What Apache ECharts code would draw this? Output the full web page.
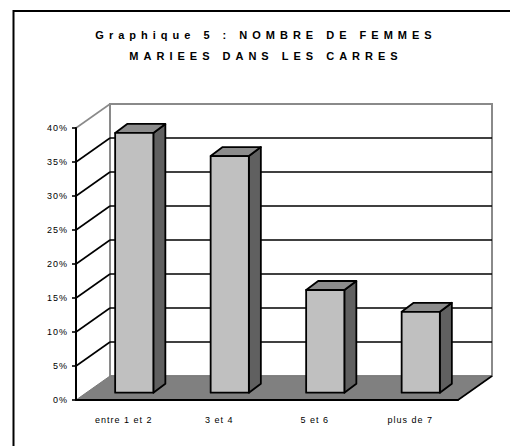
<!DOCTYPE html>
<html><head><meta charset="utf-8">
<script src="https://cdn.jsdelivr.net/npm/echarts@6/dist/echarts.min.js"></script>
<style>html,body{margin:0;padding:0;background:#fff}#c{width:510px;height:446px}</style>
</head><body><div id="c"></div>
<script>
var titleLines = ['Graphique 5 : NOMBRE DE FEMMES', 'MARIEES DANS LES CARRES'];
var categories = ['entre 1 et 2', '3 et 4', '5 et 6', 'plus de 7'];
var values = [38.2, 34.8, 15.1, 11.9];
var yTicks = [0, 5, 10, 15, 20, 25, 30, 35, 40];

var DX = 34, DY = -24;          // depth of the 3D box (px)
var BOFX = 10.5, BOFY = -7.3;   // bar front offset into depth
var BDX = 12, BDY = -9;         // bar depth
var BW = 0.4;                   // bar width / band width
var FONT = 'Liberation Sans, Arial, Helvetica, sans-serif';

var chart = echarts.init(document.getElementById('c'), null, {renderer: 'svg'});

function frame(cs) {
  return {L: cs.x, R: cs.x + cs.width, T: cs.y, B: cs.y + cs.height};
}

function renderWall(params, api) {
  var f = frame(params.coordSys);
  return {type: 'rect', shape: {x: f.L + DX, y: f.T + DY, width: f.R - f.L, height: f.B - f.T},
    style: {fill: '#ffffff', stroke: '#8a8a8a', lineWidth: 2}};
}

function renderGrid(params, api) {
  var f = frame(params.coordSys);
  var t = api.value(1);
  var y = api.coord([0, t])[1];
  if (t === 0) return null;
  var maxT = yTicks[yTicks.length - 1];
  var col = t === maxT ? '#8a8a8a' : '#000000';
  var children = [{type: 'line', shape: {x1: f.L, y1: y, x2: f.L + DX, y2: y + DY},
    style: {stroke: col, lineWidth: 1.6}}];
  if (t !== maxT) {
    children.push({type: 'line', shape: {x1: f.L + DX, y1: y + DY, x2: f.R + DX, y2: y + DY},
      style: {stroke: col, lineWidth: 1.6}});
  }
  return {type: 'group', children: children};
}

function renderFloor(params, api) {
  var f = frame(params.coordSys);
  return {type: 'group', children: [
    {type: 'polygon', shape: {points: [[f.L, f.B], [f.R, f.B], [f.R + DX, f.B + DY], [f.L + DX, f.B + DY]]},
      style: {fill: '#808080', stroke: '#7a7a7a', lineWidth: 1}},
    {type: 'line', shape: {x1: f.R, y1: f.B, x2: f.R + DX, y2: f.B + DY},
      style: {stroke: '#000000', lineWidth: 1.6}}
  ]};
}

function renderBar(params, api) {
  var i = api.value(0), v = api.value(1);
  var top = api.coord([i, v]);
  var bot = api.coord([i, 0]);
  var band = api.size([1, 0])[0];
  var w = band * BW;
  var xl = top[0] - w / 2 + BOFX, xr = xl + w;
  var yt = top[1] + BOFY, yb = bot[1] + BOFY;
  var st = {stroke: '#000000', lineWidth: 1.8, lineJoin: 'round'};
  return {type: 'group', children: [
    {type: 'polygon', shape: {points: [[xr, yt], [xr + BDX, yt + BDY], [xr + BDX, yb + BDY], [xr, yb]]},
      style: Object.assign({fill: '#606060'}, st)},
    {type: 'polygon', shape: {points: [[xl, yt], [xr, yt], [xr + BDX, yt + BDY], [xl + BDX, yt + BDY]]},
      style: Object.assign({fill: '#8c8c8c'}, st)},
    {type: 'rect', shape: {x: xl, y: yt, width: w, height: yb - yt},
      style: Object.assign({fill: '#c0c0c0'}, st)}
  ]};
}

var option = {
  animation: false,
  backgroundColor: '#ffffff',
  title: {
    text: titleLines.join('\n'),
    left: 266, top: 24, padding: 0, textAlign: 'center',
    textStyle: {fontFamily: FONT, fontSize: 11, fontWeight: 'bold', color: '#000', lineHeight: 21}
  },
  graphic: [{type: 'rect', shape: {x: 13.5, y: 11, width: 700, height: 700},
    style: {fill: 'none', stroke: '#000', lineWidth: 2}, silent: true, z: -1}],
  grid: {left: 76, top: 128, width: 382, height: 272, containLabel: false, outerBoundsMode: 'none'},
  xAxis: {
    type: 'category', data: categories, z: 10,
    axisLine: {lineStyle: {color: '#000', width: 2}},
    axisTick: {length: 4, lineStyle: {color: '#000', width: 1.6}},
    axisLabel: {color: '#000', fontFamily: FONT, fontSize: 9, margin: 15},
    splitLine: {show: false}
  },
  yAxis: {
    type: 'value', min: 0, max: 40, interval: 5, z: 10,
    axisLine: {show: true, lineStyle: {color: '#000', width: 2}},
    axisTick: {show: true, length: 4, lineStyle: {color: '#000', width: 1.6}},
    axisLabel: {color: '#000', fontFamily: FONT, fontSize: 9, margin: 8, formatter: '{value}%'},
    splitLine: {show: false}
  },
  series: [
    {type: 'custom', name: 'wall', renderItem: renderWall, data: [[0, 0]], z: 1, silent: true, clip: false},
    {type: 'custom', name: 'grid', renderItem: renderGrid, data: yTicks.map(function (t) { return [0, t]; }),
      z: 2, silent: true, clip: false},
    {type: 'custom', name: 'floor', renderItem: renderFloor, data: [[0, 0]], z: 3, silent: true, clip: false},
    {type: 'custom', name: 'bars', renderItem: renderBar,
      data: values.map(function (v, i) { return [i, v]; }), z: 4, silent: true, clip: false}
  ]
};
chart.setOption(option);

function spacing() {
  var texts = document.querySelectorAll('#c svg text');
  texts.forEach(function (t) {
    var s = t.textContent || '';
    if (/Graphique|MARIEES/.test(s)) t.style.letterSpacing = '5px';
    else t.style.letterSpacing = '1px';
  });
}
spacing();
chart.on('finished', spacing);
setTimeout(spacing, 0);
setTimeout(spacing, 200);
</script>
</body></html>
